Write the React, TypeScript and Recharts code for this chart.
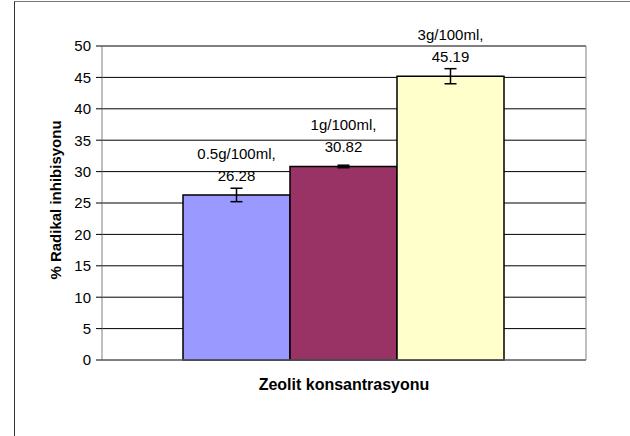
import React from 'react'
import {
  BarChart,
  Bar,
  XAxis,
  YAxis,
  CartesianGrid,
  ErrorBar
} from 'recharts'

const seriesNames = ['0.5g/100ml', '1g/100ml', '3g/100ml']
const seriesValues = [26.28, 30.82, 45.19]
const seriesErrors = [1.07, 0.2, 1.2]
const seriesColors = ['#9999FF', '#993366', '#FFFFCC']
const yTicks = [0, 5, 10, 15, 20, 25, 30, 35, 40, 45, 50]

const row: Record<string, number | string> = { name: '' }
seriesValues.forEach((v, i) => {
  row['s' + i] = v
  row['e' + i] = seriesErrors[i]
})
const data = [row]

const font = '"Liberation Sans", Arial, sans-serif'

const makeLabel = (i: number) => (props: any) => {
  const { x, y, width } = props
  const cx = x + width / 2
  return (
    <g>
      <text x={cx} y={y - 36} textAnchor="middle" fontSize={15} fill="#000" fontFamily={font}>
        {seriesNames[i]},
      </text>
      <text x={cx} y={y - 14} textAnchor="middle" fontSize={15} fill="#000" fontFamily={font}>
        {seriesValues[i].toFixed(2)}
      </text>
    </g>
  )
}

export default function App() {
  return (
    <div style={{ position: 'absolute', left: 0, top: 0, width: 630, height: 436, background: '#fff', fontFamily: font }}>
      <div
        style={{
          position: 'absolute',
          left: 14,
          top: 1,
          width: 616,
          height: 435,
          borderLeft: '1.5px solid #333',
          borderTop: '1px solid #777',
          boxSizing: 'border-box'
        }}
      />
      <div style={{ position: 'absolute', left: 0, top: 0 }}>
        <BarChart
          width={630}
          height={436}
          data={data}
          margin={{ top: 46, right: 0, bottom: 0, left: 0 }}
          barCategoryGap={81}
          barGap={0}
        >
          <CartesianGrid horizontal vertical={false} stroke="#000" strokeWidth={1} />
          <XAxis
            dataKey="name"
            tick={false}
            tickLine={false}
            height={76}
            axisLine={{ stroke: '#808080' }}
            label={{
              value: 'Zeolit konsantrasyonu',
              position: 'insideTop',
              offset: 19,
              style: { fontSize: 16, fontWeight: 'bold', fill: '#000', fontFamily: font }
            }}
          />
          <YAxis
            domain={[0, 50]}
            ticks={yTicks}
            width={102}
            interval={0}
            tickSize={6}
            tickMargin={5}
            axisLine={{ stroke: '#808080' }}
            tickLine={{ stroke: '#000' }}
            tick={{ fontSize: 15, fill: '#000', fontFamily: font }}
            label={{
              value: '% Radikal inhibisyonu',
              angle: -90,
              position: 'insideLeft',
              offset: 56,
              dy: -3,
              style: { fontSize: 15, fontWeight: 'bold', fill: '#000', fontFamily: font, textAnchor: 'middle' }
            }}
          />
          <YAxis
            yAxisId="r"
            orientation="right"
            domain={[0, 50]}
            width={44}
            tick={false}
            tickLine={false}
            axisLine={{ stroke: '#808080' }}
          />
          {seriesValues.map((_, i) => (
            <Bar
              key={i}
              dataKey={'s' + i}
              fill={seriesColors[i]}
              stroke="#000"
              strokeWidth={1.5}
              isAnimationActive={false}
              label={makeLabel(i)}
            >
              <ErrorBar dataKey={'e' + i} width={6} stroke="#000" strokeWidth={1.5} direction="y" />
            </Bar>
          ))}
        </BarChart>
      </div>
    </div>
  )
}
